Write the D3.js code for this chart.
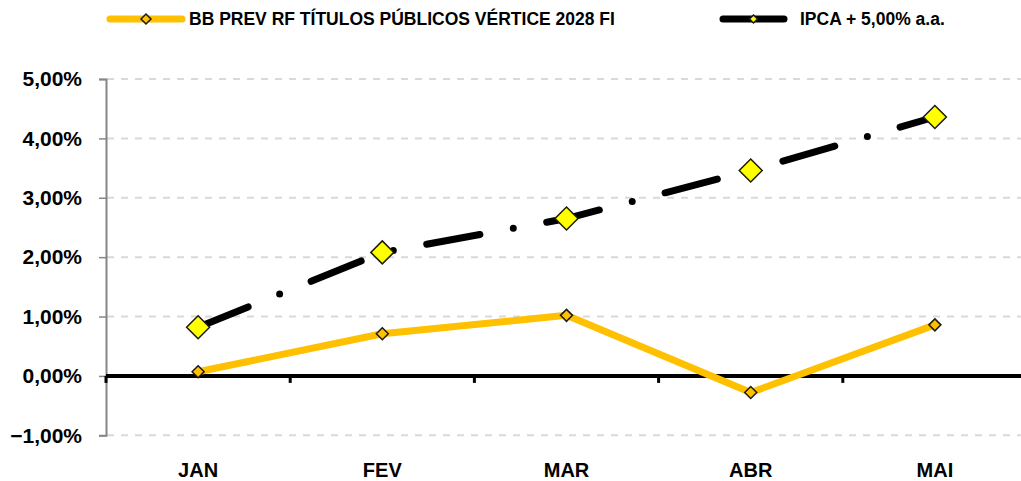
<!DOCTYPE html>
<html>
<head>
<meta charset="utf-8">
<script src="https://cdn.jsdelivr.net/npm/d3@7"></script>
<style>
  body { margin: 0; background: #fff; }
  svg { display: block; font-family: "Liberation Sans", Arial, sans-serif; font-weight: bold; }
</style>
</head>
<body>
<div id="chart"></div>
<script>
// monthly returns, in %
const categories = ["JAN", "FEV", "MAR", "ABR", "MAI"];
const fundValues = [0.07, 0.71, 1.02, -0.28, 0.86];
const benchValues = [0.82, 2.08, 2.65, 3.46, 4.36];
const yTickValues = [-1, 0, 1, 2, 3, 4, 5];
const seriesNames = ["BB PREV RF TÍTULOS PÚBLICOS VÉRTICE 2028 FI", "IPCA + 5,00% a.a."];

const width = 1021, height = 481;
const margin = { top: 79, bottom: 46, left: 106 };

const svg = d3.select("#chart").append("svg")
  .attr("width", width)
  .attr("height", height);

const xScale = d3.scaleBand().domain(categories).range([margin.left, 1027]);
const yScale = d3.scaleLinear().domain([-1, 5]).range([435.3, margin.top]);

const pct = d3.format(".2f");
const fmt = v => pct(v).replace(".", ",") + "%";

// horizontal dashed gridlines
svg.append("g").selectAll("line")
  .data(yTickValues.filter(d => d !== 0))
  .enter().append("line")
  .attr("x1", margin.left + 1).attr("x2", width)
  .attr("y1", d => yScale(d)).attr("y2", d => yScale(d))
  .attr("stroke", "#d9d9d9")
  .attr("stroke-width", 2)
  .attr("stroke-dasharray", "7,7");

// y axis
const yAxis = svg.append("g")
  .attr("transform", `translate(${margin.left},0)`)
  .call(d3.axisLeft(yScale).tickValues(yTickValues).tickFormat(fmt).tickSize(7).tickPadding(17));
yAxis.select(".domain").attr("stroke", "#868686").attr("stroke-width", 2);
yAxis.selectAll(".tick line").attr("stroke", "#868686").attr("stroke-width", 1.5);
yAxis.selectAll("text")
  .attr("fill", "#000")
  .style("font-size", "21px")
  .style("font-weight", "bold")
  .style("font-family", "Liberation Sans, Arial, sans-serif");

// zero line with category ticks below it
const xAxis = svg.append("g")
  .attr("transform", `translate(0,${yScale(0)})`);
xAxis.append("line")
  .attr("x1", margin.left).attr("x2", width)
  .attr("y1", 0).attr("y2", 0)
  .attr("stroke", "#000").attr("stroke-width", 4);
xAxis.selectAll(".ctick")
  .data(categories)
  .enter().append("line")
  .attr("class", "ctick")
  .attr("x1", d => xScale(d)).attr("x2", d => xScale(d))
  .attr("y1", 0).attr("y2", 7)
  .attr("stroke", "#000").attr("stroke-width", 3);

// category labels
svg.append("g").selectAll("text")
  .data(categories)
  .enter().append("text")
  .attr("x", d => xScale(d) + xScale.bandwidth() / 2)
  .attr("y", 477)
  .attr("text-anchor", "middle")
  .style("font-size", "20px")
  .text(d => d);

const cx = d => xScale(d) + xScale.bandwidth() / 2;
const line = d3.line().x(d => cx(d.key)).y(d => yScale(d.value));

const fundData = categories.map((k, i) => ({ key: k, value: fundValues[i] }));
const benchData = categories.map((k, i) => ({ key: k, value: benchValues[i] }));

const diamond = s => `M0,${-s}L${s},0L0,${s}L${-s},0Z`;

// fund series
svg.append("path")
  .datum(fundData)
  .attr("d", line)
  .attr("fill", "none")
  .attr("stroke", "#ffc000")
  .attr("stroke-width", 7)
  .attr("stroke-linejoin", "round");

// benchmark series, long dash dot
svg.append("path")
  .datum(benchData)
  .attr("d", line)
  .attr("fill", "none")
  .attr("stroke", "#000")
  .attr("stroke-width", 7)
  .attr("stroke-linecap", "round")
  .attr("stroke-dasharray", "54,34,0,34");

svg.append("g").selectAll("path")
  .data(fundData)
  .enter().append("path")
  .attr("transform", d => `translate(${cx(d.key)},${yScale(d.value)})`)
  .attr("d", diamond(6))
  .attr("fill", "#ffc000")
  .attr("stroke", "#1a1a1a")
  .attr("stroke-width", 1.5);

svg.append("g").selectAll("path")
  .data(benchData)
  .enter().append("path")
  .attr("transform", d => `translate(${cx(d.key)},${yScale(d.value)})`)
  .attr("d", diamond(11.5))
  .attr("fill", "#ffff00")
  .attr("stroke", "#1a1a1a")
  .attr("stroke-width", 1.5);

// legend
const legend = [
  { name: seriesNames[0], x: 110, color: "#ffc000", fill: "#ffc000", len: 72, gap: 7, mk: 5 },
  { name: seriesNames[1], x: 723, color: "#000", fill: "#ffff00", len: 61, gap: 16, mk: 4 }
];
const lg = svg.append("g").selectAll("g")
  .data(legend)
  .enter().append("g")
  .attr("transform", d => `translate(${d.x},19)`);
lg.append("line")
  .attr("x1", 0).attr("x2", d => d.len)
  .attr("stroke", d => d.color)
  .attr("stroke-width", 7)
  .attr("stroke-linecap", "round");
lg.append("path")
  .attr("transform", d => `translate(${d.len / 2},0)`)
  .attr("d", d => diamond(d.mk))
  .attr("fill", d => d.fill)
  .attr("stroke", "#1a1a1a")
  .attr("stroke-width", 1.5);
lg.append("text")
  .attr("x", d => d.len + d.gap)
  .attr("y", 6)
  .style("font-size", "17.5px")
  .text(d => d.name);
</script>
</body>
</html>
